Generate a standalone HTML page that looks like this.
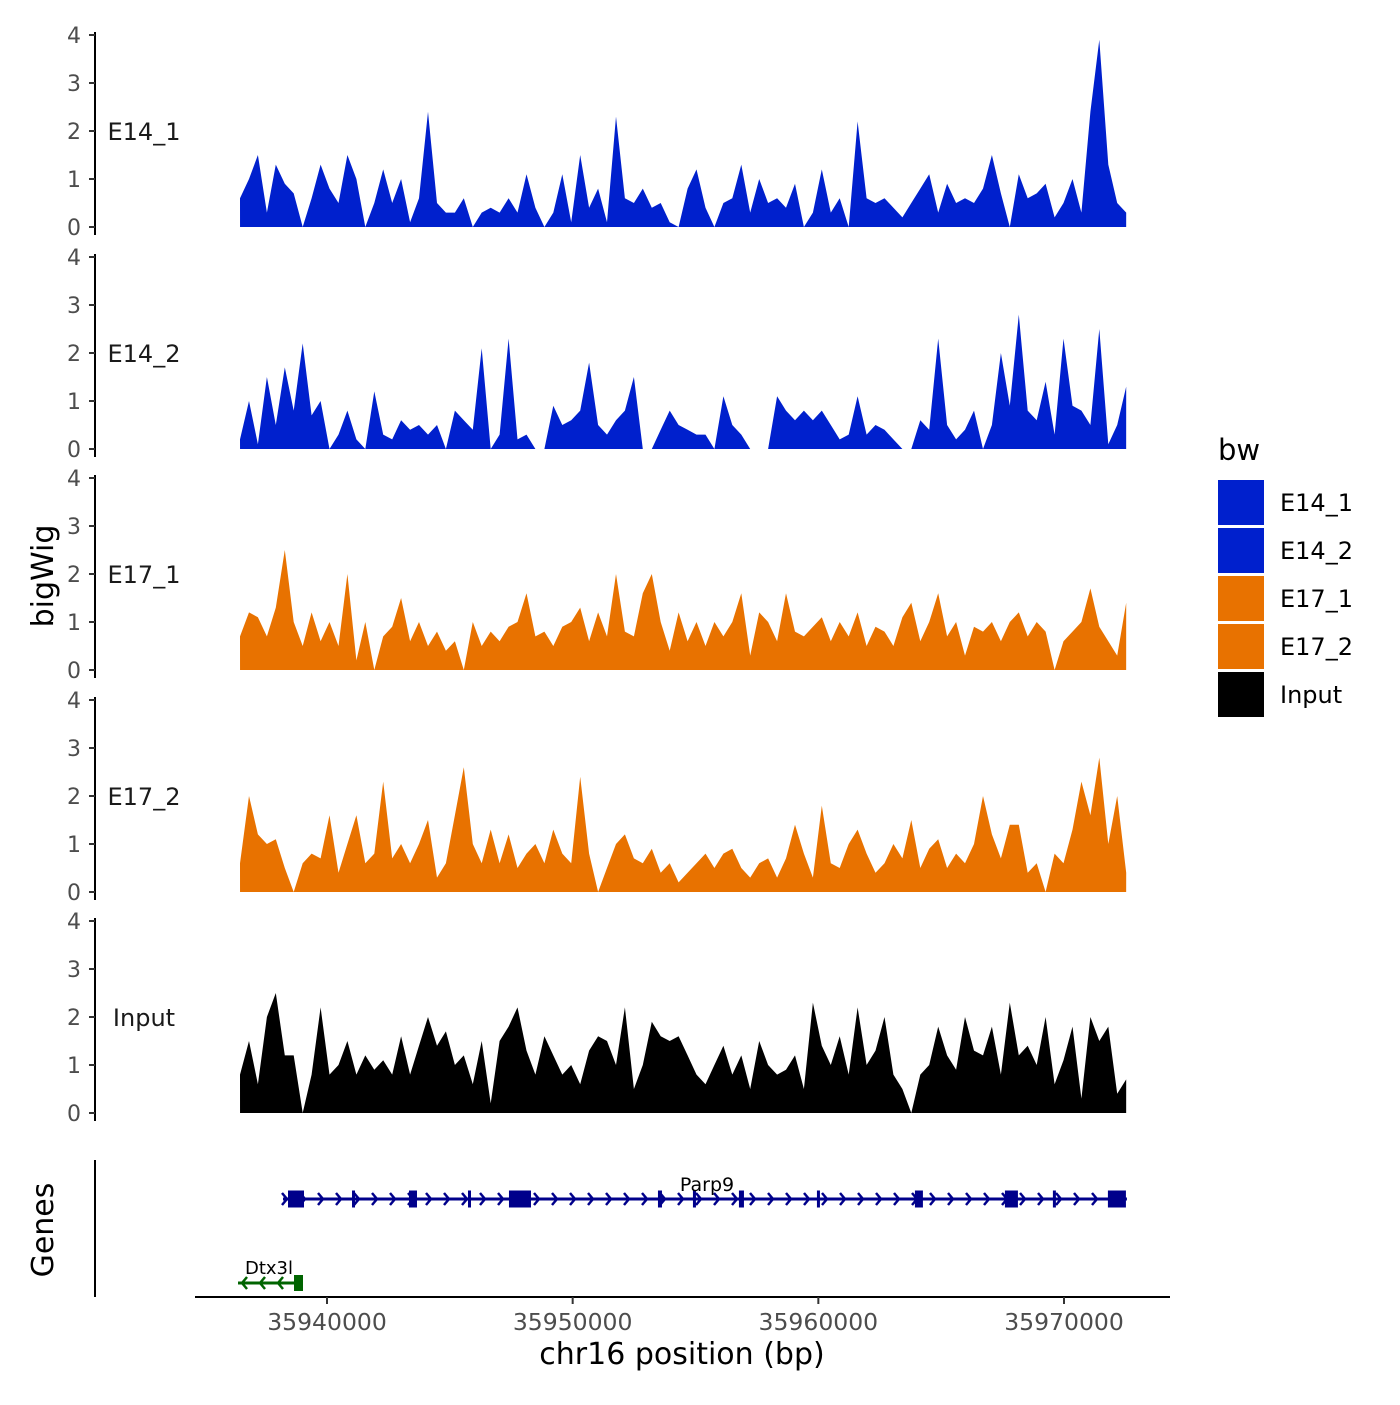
<!DOCTYPE html>
<html><head><meta charset="utf-8"><style>
body{margin:0;background:#fff;}
svg text{font-family:"DejaVu Sans","Liberation Sans",sans-serif;}
</style></head><body>
<svg id="c" width="1400" height="1400" xmlns="http://www.w3.org/2000/svg"></svg>
<script>
const trackNames=["E14_1","E14_2","E17_1","E17_2","Input"];
const trackColors=["#0020CD","#0020CD","#E87200","#E87200","#000000"];
const yTicks=[0,1,2,3,4];
const xTicks=[35940000,35950000,35960000,35970000];
const binStart=35936460, binEnd=35972530;
const e14_1=[0.6,1.0,1.5,0.3,1.3,0.9,0.7,0,0.6,1.3,0.8,0.5,1.5,1.0,0,0.5,1.2,0.5,1.0,0.1,0.6,2.4,0.5,0.3,0.3,0.6,0,0.3,0.4,0.3,0.6,0.3,1.1,0.4,0,0.3,1.1,0.1,1.5,0.4,0.8,0.1,2.3,0.6,0.5,0.8,0.4,0.5,0.1,0,0.8,1.2,0.4,0,0.5,0.6,1.3,0.3,1.0,0.5,0.6,0.4,0.9,0,0.3,1.2,0.3,0.6,0,2.2,0.6,0.5,0.6,0.4,0.2,0.5,0.8,1.1,0.3,0.9,0.5,0.6,0.5,0.8,1.5,0.7,0,1.1,0.6,0.7,0.9,0.2,0.5,1.0,0.3,2.4,3.9,1.3,0.5,0.3];
const e14_2=[0.2,1.0,0.1,1.5,0.5,1.7,0.8,2.2,0.7,1.0,0,0.3,0.8,0.2,0,1.2,0.3,0.2,0.6,0.4,0.5,0.3,0.5,0,0.8,0.6,0.4,2.1,0,0.3,2.3,0.2,0.3,0,0,0.9,0.5,0.6,0.8,1.8,0.5,0.3,0.6,0.8,1.5,0,0,0.4,0.8,0.5,0.4,0.3,0.3,0,1.1,0.5,0.3,0,0,0,1.1,0.8,0.6,0.8,0.6,0.8,0.5,0.2,0.3,1.1,0.3,0.5,0.4,0.2,0,0,0.6,0.4,2.3,0.5,0.2,0.4,0.8,0,0.5,2.0,0.9,2.8,0.8,0.6,1.4,0.3,2.3,0.9,0.8,0.5,2.5,0.1,0.5,1.3];
const e17_1=[0.7,1.2,1.1,0.7,1.3,2.5,1.0,0.5,1.2,0.6,1.0,0.5,2.0,0.2,1.0,0,0.7,0.9,1.5,0.6,1.0,0.5,0.8,0.4,0.6,0,1.0,0.5,0.8,0.6,0.9,1.0,1.6,0.7,0.8,0.5,0.9,1.0,1.3,0.6,1.2,0.7,2.0,0.8,0.7,1.6,2.0,1.0,0.4,1.2,0.6,1.0,0.5,1.0,0.7,1.0,1.6,0.3,1.2,1.0,0.6,1.6,0.8,0.7,0.9,1.1,0.6,1.0,0.7,1.2,0.5,0.9,0.8,0.5,1.1,1.4,0.6,1.0,1.6,0.7,1.0,0.3,0.9,0.8,1.0,0.6,1.0,1.2,0.7,1.0,0.8,0,0.6,0.8,1.0,1.7,0.9,0.6,0.3,1.4];
const e17_2=[0.6,2.0,1.2,1.0,1.1,0.5,0,0.6,0.8,0.7,1.6,0.4,1.0,1.6,0.6,0.8,2.3,0.7,1.0,0.6,1.0,1.5,0.3,0.6,1.6,2.6,1.0,0.6,1.3,0.6,1.2,0.5,0.8,1.0,0.6,1.3,0.8,0.6,2.4,0.8,0,0.5,1.0,1.2,0.7,0.6,0.9,0.4,0.6,0.2,0.4,0.6,0.8,0.5,0.8,0.9,0.5,0.3,0.6,0.7,0.3,0.7,1.4,0.8,0.3,1.8,0.6,0.5,1.0,1.3,0.8,0.4,0.6,1.0,0.7,1.5,0.5,0.9,1.1,0.5,0.8,0.6,1.0,2.0,1.2,0.7,1.4,1.4,0.4,0.6,0,0.8,0.6,1.3,2.3,1.6,2.8,1.0,2.0,0.4];
const input=[0.8,1.5,0.6,2.0,2.5,1.2,1.2,0,0.8,2.2,0.8,1.0,1.5,0.8,1.2,0.9,1.1,0.8,1.6,0.8,1.4,2.0,1.4,1.7,1.0,1.2,0.6,1.5,0.2,1.5,1.8,2.2,1.3,0.8,1.6,1.2,0.8,1.0,0.6,1.3,1.6,1.5,1.0,2.2,0.5,1.0,1.9,1.6,1.5,1.6,1.2,0.8,0.6,1.0,1.4,0.8,1.2,0.5,1.5,1.0,0.8,0.9,1.2,0.5,2.3,1.4,1.0,1.6,0.8,2.2,1.0,1.3,2.0,0.8,0.5,0,0.8,1.0,1.8,1.2,0.9,2.0,1.3,1.2,1.8,0.8,2.3,1.2,1.4,1.0,2.0,0.6,1.1,1.8,0.3,2.0,1.5,1.8,0.4,0.7];
const parp9Start=35938209, parp9End=35972561;
const parp9ExonStarts=[35938413,35941018,35943337,35945739,35947407,35953472,35954896,35956768,35959943,35963932,35967595,35969548,35971787];
const parp9ExonEnds=[35939064,35941140,35943663,35945861,35948303,35953635,35954978,35956972,35960024,35964257,35968124,35969670,35972520];
const dtxStart=35936378, dtxEnd=35939023;
const dtxExonStarts=[35938657]; const dtxExonEnds=[35939023];

const svg=document.getElementById('c');
const NS="http://www.w3.org/2000/svg";
function mk(t,a,p){const e=document.createElementNS(NS,t);for(const k in a)e.setAttribute(k,a[k]);(p||svg).appendChild(e);return e;}
const xs=bp=>327+(bp-35940000)/10000*245.67;
const trackZero=[227,449,670,892,1113];
const ys=(t,v)=>trackZero[t]-v*48;
const series=[e14_1,e14_2,e17_1,e17_2,input];

series.forEach((vals,t)=>{
  const g=mk('g',{});
  
  
  const n=vals.length;
  let d='M'+xs(binStart)+','+ys(t,0);
  vals.forEach((v,i)=>{const bp=binStart+(binEnd-binStart)*i/(n-1);d+=' L'+xs(bp).toFixed(1)+','+ys(t,v).toFixed(1);});
  d+=' L'+xs(binEnd)+','+ys(t,0)+' Z';
  const p=mk('path',{d:d,fill:trackColors[t]},g);
  
  
  const ax=mk('line',{x1:95,x2:95,y1:ys(t,4)-3,y2:ys(t,0)+8,stroke:'#000','stroke-width':2},g);
  
  
  yTicks.forEach(v=>{
    mk('line',{x1:89,x2:95,y1:ys(t,v),y2:ys(t,v),stroke:'#333','stroke-width':2},g);
    const tx=mk('text',{x:81,y:ys(t,v)+8,'text-anchor':'end','font-size':22,fill:'#4d4d4d'},g);
    tx.textContent=v;
    
    
  });
  const lb=mk('text',{x:144,y:ys(t,2)+9,'text-anchor':'middle','font-size':24,fill:'#1a1a1a'},g);
  lb.textContent=trackNames[t];
  
  
});

mk('line',{x1:95,x2:95,y1:1160,y2:1297,stroke:'#000','stroke-width':2});
function gene(s,e,es,ee,y,col,dir,h){
  const g=mk('g',{});
  mk('line',{x1:xs(s),x2:xs(e),y1:y,y2:y,stroke:col,'stroke-width':3},g);
  for(let x=xs(s)+4;x<xs(e)-4;x+=18){
    const dx=dir*5;
    mk('polyline',{points:(x-dx)+','+(y-6)+' '+x+','+y+' '+(x-dx)+','+(y+6),fill:'none',stroke:col,'stroke-width':2.5},g);
  }
  es.forEach((a,i)=>{const w=Math.max(3,xs(ee[i])-xs(a));mk('rect',{x:xs(a),y:y-h/2,width:w,height:h,fill:col},g);});
  return g;
}
const g1=gene(parp9Start,parp9End,parp9ExonStarts,parp9ExonEnds,1199,'#00008B',1,17);


const g2=gene(dtxStart,dtxEnd,dtxExonStarts,dtxExonEnds,1283,'#006400',-1,16);


const t1=mk('text',{x:707,y:1191,'text-anchor':'middle','font-size':19,fill:'#000'});t1.textContent='Parp9';


const t2=mk('text',{x:269,y:1274,'text-anchor':'middle','font-size':18,fill:'#000'});t2.textContent='Dtx3l';



const xa=mk('line',{x1:195,x2:1170,y1:1297,y2:1297,stroke:'#000','stroke-width':2});


xTicks.forEach(v=>{
  mk('line',{x1:xs(v),x2:xs(v),y1:1297,y2:1304,stroke:'#333','stroke-width':2});
  const tx=mk('text',{x:xs(v),y:1330,'text-anchor':'middle','font-size':23.5,fill:'#4d4d4d'});
  tx.textContent=v;
  
  
});
const xt=mk('text',{x:682,y:1364,'text-anchor':'middle','font-size':30,fill:'#000'});xt.textContent='chr16 position (bp)';


const yt=mk('text',{x:53,y:576,'text-anchor':'middle','font-size':30,fill:'#000',transform:'rotate(-90 53 576)'});yt.textContent='bigWig';


const gt=mk('text',{x:53,y:1230,'text-anchor':'middle','font-size':30,fill:'#000',transform:'rotate(-90 53 1230)'});gt.textContent='Genes';



const lt=mk('text',{x:1218,y:460,'font-size':29,fill:'#000'});lt.textContent='bw';


trackNames.forEach((n,i)=>{
  const g=mk('g',{});
  
  
  mk('rect',{x:1218,y:480+i*48,width:46,height:45,fill:trackColors[i]},g);
  const tx=mk('text',{x:1280,y:511+i*48,'font-size':24,fill:'#000'},g);tx.textContent=n;
});
</script>
</body></html>
